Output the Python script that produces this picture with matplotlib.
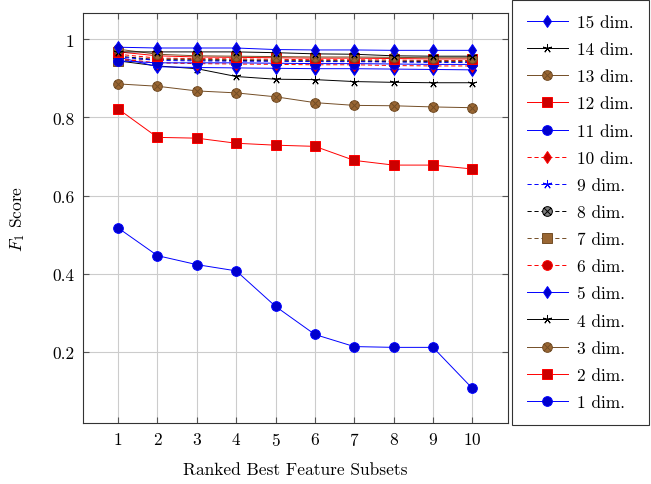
import matplotlib
matplotlib.use("Agg")
import matplotlib.pyplot as plt
from matplotlib.path import Path
import numpy as np

plt.rcParams['font.family'] = 'cmr10'
plt.rcParams['mathtext.fontset'] = 'cm'
plt.rcParams['axes.formatter.use_mathtext'] = True
plt.rcParams['lines.scale_dashes'] = False

x = [1, 2, 3, 4, 5, 6, 7, 8, 9, 10]
labels = [f"{i} dim." for i in range(1, 16)]

d1 = [0.517, 0.446, 0.423, 0.407, 0.316, 0.244, 0.213, 0.211, 0.211, 0.106]
d2 = [0.822, 0.749, 0.747, 0.734, 0.729, 0.726, 0.690, 0.678, 0.678, 0.668]
d3 = [0.886, 0.880, 0.868, 0.863, 0.853, 0.838, 0.831, 0.830, 0.827, 0.825]
d4 = [0.945, 0.932, 0.925, 0.905, 0.898, 0.897, 0.892, 0.890, 0.889, 0.889]
d5 = [0.955, 0.930, 0.928, 0.927, 0.926, 0.925, 0.925, 0.924, 0.923, 0.922]
d6 = [0.962, 0.952, 0.951, 0.950, 0.949, 0.948, 0.948, 0.947, 0.946, 0.946]
d7 = [0.945, 0.950, 0.949, 0.948, 0.947, 0.946, 0.946, 0.945, 0.945, 0.944]
d8 = [0.957, 0.948, 0.947, 0.946, 0.945, 0.944, 0.944, 0.943, 0.943, 0.942]
d9 = [0.955, 0.946, 0.945, 0.944, 0.944, 0.943, 0.943, 0.942, 0.941, 0.941]
d10 = [0.950, 0.940, 0.938, 0.937, 0.936, 0.935, 0.935, 0.933, 0.932, 0.932]
d11 = [0.945, 0.940, 0.940, 0.940, 0.939, 0.938, 0.938, 0.937, 0.936, 0.936]
d12 = [0.968, 0.958, 0.955, 0.954, 0.953, 0.952, 0.952, 0.951, 0.950, 0.950]
d13 = [0.975, 0.962, 0.958, 0.957, 0.956, 0.955, 0.955, 0.954, 0.953, 0.953]
d14 = [0.968, 0.968, 0.968, 0.968, 0.966, 0.963, 0.962, 0.958, 0.957, 0.957]
d15 = [0.980, 0.978, 0.978, 0.978, 0.974, 0.973, 0.973, 0.972, 0.972, 0.972]
series = [d1, d2, d3, d4, d5, d6, d7, d8, d9, d10, d11, d12, d13, d14, d15]

# otimes marker: circle with an X
r = 0.7071
otimes = Path.make_compound_path(
    Path.unit_circle(),
    Path([(-r, -r), (r, r)], [Path.MOVETO, Path.LINETO]),
    Path([(-r, r), (r, -r)], [Path.MOVETO, Path.LINETO]),
)
star5 = (5, 2, 0)

blue = (0, 0, 1)
red = (1, 0, 0)
brown_line = (0.45, 0.30, 0.15)
brown_fill = (0.6, 0.4, 0.2)
styles = [
    dict(color=blue, marker='o', mfc=(0, 0, 0.8), ls='-', ms=7),
    dict(color=red, marker='s', mfc=(0.8, 0, 0), ls='-', ms=6.5),
    dict(color=brown_line, marker=otimes, mfc=brown_fill, ls='-', ms=7),
    dict(color='black', marker=star5, mfc='none', ls='-', ms=6.5),
    dict(color=blue, marker='d', mfc=(0, 0, 0.8), ls='-', ms=6.5),
    dict(color=red, marker='o', mfc=(0.8, 0, 0), ls='--', ms=7),
    dict(color=brown_line, marker='s', mfc=brown_fill, ls='--', ms=6.5),
    dict(color='black', marker=otimes, mfc='gray', ls='--', ms=7),
    dict(color=blue, marker=star5, mfc='none', ls='--', ms=6.5),
    dict(color=red, marker='d', mfc=(0.8, 0, 0), ls='--', ms=6.5),
]

fig = plt.figure(figsize=(6.51, 4.85), dpi=100)
ax = fig.add_axes([0.127, 0.126, 0.653, 0.845])

handles = []
for i, (ys, lab) in enumerate(zip(series, labels)):
    st = styles[i % 10]
    kw = dict(color=st['color'], marker=st['marker'], markerfacecolor=st['mfc'],
              markeredgecolor=st['color'], markersize=st['ms'], lw=0.7,
              markeredgewidth=0.7, label=lab, zorder=3)
    if st['ls'] == '--':
        kw['dashes'] = (3, 2)
    h, = ax.plot(x, ys, **kw)
    handles.append(h)

ax.set_xlim(0.1, 10.9)
ax.set_ylim(0.0175, 1.0675)
ax.set_xticks(x)
ax.set_yticks([0.2, 0.4, 0.6, 0.8, 1.0])
ax.set_yticklabels(['0.2', '0.4', '0.6', '0.8', '1'])
ax.grid(True, color='#cccccc', lw=0.8, zorder=0)
ax.set_axisbelow(True)
ax.tick_params(direction='in', length=4, color='#555555', labelsize=12.5, top=True, right=True, pad=6)
for s in ax.spines.values():
    s.set_color('#333333')
    s.set_linewidth(0.8)
ax.set_xlabel('Ranked Best Feature Subsets', fontsize=12.5, labelpad=10)
ax.set_ylabel(r'$F_1$ Score', fontsize=12.5, labelpad=18)

leg = fig.legend(handles[::-1], labels[::-1], loc='upper left',
                 bbox_to_anchor=(512 / 651, 1 - 1 / 485), fontsize=12.5,
                 frameon=True, fancybox=False, edgecolor='black', borderaxespad=0,
                 handlelength=2.35, labelspacing=0.68, borderpad=0.85,
                 handletextpad=0.55, numpoints=1)
leg.get_frame().set_linewidth(0.8)

fig.savefig('out.png', dpi=100)
